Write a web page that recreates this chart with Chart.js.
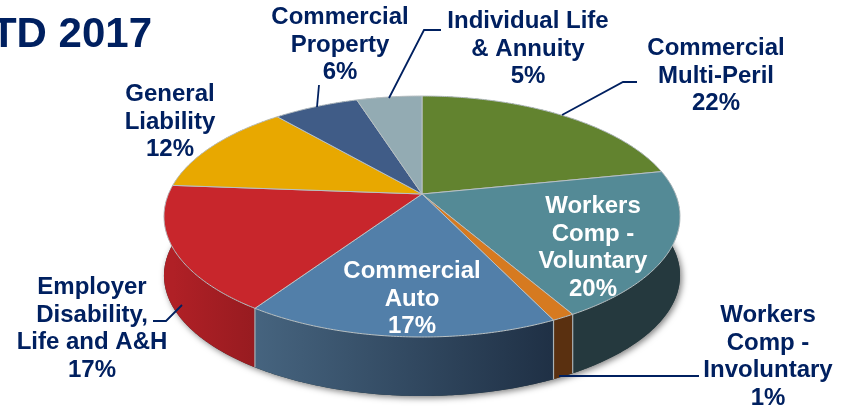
<!DOCTYPE html>
<html>
<head>
<meta charset="utf-8">
<style>
  html, body { margin: 0; padding: 0; background: #fff; overflow: hidden; }
  canvas { display: block; }
</style>
<script src="https://cdn.jsdelivr.net/npm/chart.js@4"></script>
</head>
<body>
<canvas id="pie" width="848" height="407"></canvas>
<script>
// data, clockwise from the top
var categories = ['Commercial Multi-Peril', 'Workers Comp - Voluntary', 'Workers Comp - Involuntary', 'Commercial Auto',
                  'Employer Disability, Life and A&H', 'General Liability', 'Commercial Property', 'Individual Life & Annuity'];
// slice sizes, the printed labels are rounded
var shares = [21.8, 19.9, 1.2, 16.5, 16.8, 12.5, 6.4, 4.9];
var shareLabels = ['22%', '20%', '1%', '17%', '17%', '12%', '6%', '5%'];
var chartTitle = 'TD 2017';
var labelLines = [
  ['Commercial', 'Multi-Peril'],
  ['Workers', 'Comp -', 'Voluntary'],
  ['Workers', 'Comp -', 'Involuntary'],
  ['Commercial', 'Auto'],
  ['Employer', 'Disability,', 'Life and A&H'],
  ['General', 'Liability'],
  ['Commercial', 'Property'],
  ['Individual Life', '& Annuity']
];

// colours
var topColors = ['#62832f', '#548a96', '#d67a20', '#527fa9', '#c8262c', '#e8a800', '#405c87', '#93abb3'];
var wallStart = ['#25393e', '#25393e', '#5a3010', '#1f3045', '#971b20', '#a67800', '#2c4060', '#67787d'];
var wallEnd   = ['#25393e', '#25393e', '#5a3010', '#46647f', '#b02026', '#a67800', '#2c4060', '#67787d'];
var inkColor = '#002060';

// label placement: centre x, first baseline, text colour
var labelX    = [716, 593, 768, 412, 92, 170, 340, 528];
var labelY    = [55, 213, 322, 278, 294, 101, 24, 28];
var labelInk  = [inkColor, '#ffffff', inkColor, '#ffffff', inkColor, inkColor, inkColor, inkColor];
var labelStep = 27.6;

// leader lines (null where the label sits on its slice)
var leaders = [
  [[562, 115], [623, 82], [637, 82]],
  null,
  [[559, 376], [699, 376]],
  null,
  [[182, 305], [166, 321], [153, 321]],
  null,
  [[317, 107], [319, 85]],
  [[389, 98], [424, 30], [441, 30]]
];

// perspective of the disc
var CX = 422, CY = 194, RX = 253.5, RY = 116.3, TILT = 0.1867, DEPTH = 59;

function project(theta, r) {
  var u = Math.sin(theta) * r;
  var v = -Math.cos(theta) * r;
  var w = 1 - TILT * v;
  return { x: CX + RX * u / w, y: CY + RY * v / w };
}

function traceRim(ctx, a0, a1, dy, first) {
  var n = Math.max(2, Math.ceil(Math.abs(a1 - a0) / 0.01));
  for (var i = 0; i <= n; i++) {
    var p = project(a0 + (a1 - a0) * i / n, 1);
    if (i === 0 && first) ctx.moveTo(p.x, p.y + dy);
    else ctx.lineTo(p.x, p.y + dy);
  }
}

var pie3d = {
  id: 'pie3d',
  beforeDatasetDraw: function(chart) {
    var ctx = chart.ctx;
    var arcs = chart.getDatasetMeta(0).data;
    var slices = arcs.map(function(el) {
      var p = el.getProps(['startAngle', 'endAngle'], true);
      return { a0: p.startAngle + Math.PI / 2, a1: p.endAngle + Math.PI / 2, fill: el.options.backgroundColor };
    });

    // underside with soft shadow
    ctx.save();
    ctx.shadowColor = 'rgba(0,0,0,0.5)';
    ctx.shadowBlur = 6;
    ctx.shadowOffsetX = 2;
    ctx.shadowOffsetY = 2;
    ctx.fillStyle = '#25393e';
    ctx.beginPath();
    traceRim(ctx, 0, Math.PI * 2, DEPTH, true);
    ctx.closePath();
    ctx.fill();
    ctx.restore();

    // walls
    slices.forEach(function(s, i) {
      var pa = project(s.a0, 1), pb = project(s.a1, 1);
      var left = Math.min(pa.x, pb.x), right = Math.max(pa.x, pb.x);
      var g = ctx.createLinearGradient(left, 0, right, 0);
      g.addColorStop(0, wallEnd[i]);
      g.addColorStop(1, wallStart[i]);
      ctx.fillStyle = g;
      ctx.beginPath();
      traceRim(ctx, s.a0, s.a1, 0, true);
      traceRim(ctx, s.a1, s.a0, DEPTH, false);
      ctx.closePath();
      ctx.fill();
    });

    // seams on the front wall
    ctx.strokeStyle = '#a9b2b6';
    ctx.lineWidth = 1.2;
    slices.forEach(function(s) {
      if (-Math.cos(s.a0) < TILT) return;
      var p = project(s.a0, 1);
      ctx.beginPath();
      ctx.moveTo(p.x, p.y);
      ctx.lineTo(p.x, p.y + DEPTH);
      ctx.stroke();
    });

    // top face
    slices.forEach(function(s) {
      ctx.fillStyle = s.fill;
      ctx.strokeStyle = '#b9c1c4';
      ctx.lineWidth = 1;
      ctx.beginPath();
      ctx.moveTo(CX, CY);
      traceRim(ctx, s.a0, s.a1, 0, false);
      ctx.closePath();
      ctx.fill();
      ctx.stroke();
    });
    return false; // the library's flat arcs are replaced by the drawing above
  },
  afterDraw: function(chart) {
    var ctx = chart.ctx;
    ctx.save();

    // leader lines
    ctx.strokeStyle = inkColor;
    ctx.lineWidth = 1.8;
    leaders.forEach(function(pts) {
      if (!pts) return;
      ctx.beginPath();
      pts.forEach(function(p, i) {
        if (i === 0) ctx.moveTo(p[0], p[1]);
        else ctx.lineTo(p[0], p[1]);
      });
      ctx.stroke();
    });

    // title, cut off by the left edge like the source slide
    ctx.fillStyle = inkColor;
    ctx.font = 'bold 42px "Liberation Sans"';
    ctx.textAlign = 'right';
    ctx.textBaseline = 'alphabetic';
    ctx.fillText(chartTitle, 152, 47);

    // slice labels
    ctx.font = 'bold 24px "Liberation Sans"';
    ctx.textAlign = 'center';
    labelLines.forEach(function(lines, i) {
      ctx.fillStyle = labelInk[i];
      lines.concat([shareLabels[i]]).forEach(function(txt, j) {
        ctx.fillText(txt, labelX[i], labelY[i] + j * labelStep);
      });
    });
    ctx.restore();
  }
};

new Chart(document.getElementById('pie').getContext('2d'), {
  type: 'pie',
  data: {
    labels: categories,
    datasets: [{ data: shares, backgroundColor: topColors, borderWidth: 0 }]
  },
  options: {
    responsive: false,
    animation: false,
    plugins: { legend: { display: false }, tooltip: { enabled: false } }
  },
  plugins: [pie3d]
});
</script>
</body>
</html>
